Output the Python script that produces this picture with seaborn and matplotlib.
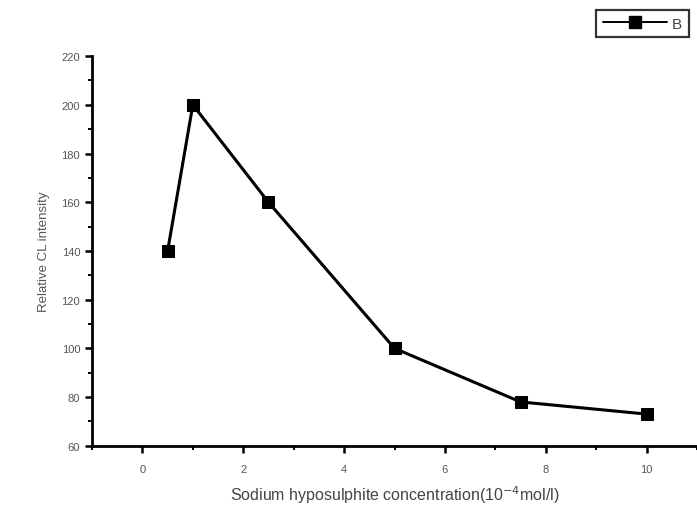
import matplotlib
matplotlib.use("Agg")
import matplotlib.pyplot as plt
import seaborn as sns
import pandas as pd
from matplotlib.ticker import MultipleLocator
from matplotlib.lines import Line2D

concentration = [0.5, 1.0, 2.5, 5.0, 7.5, 10.0]
intensity = [140, 200, 160, 100, 78, 73]
series_name = "B"

df = pd.DataFrame({"x": concentration, "y": intensity, "s": series_name})

sns.set_theme(style="white")
plt.rcParams["font.family"] = ["Liberation Sans", "DejaVu Sans"]

fig = plt.figure(figsize=(6.97, 5.10), dpi=100)
ax = fig.add_axes([0.132, 0.124, 0.868, 0.764])

sns.lineplot(data=df, x="x", y="y", hue="s", palette=["black"], marker="s",
             markersize=8, markeredgecolor="black", linewidth=2.2, ax=ax,
             legend=False)

ax.set_xlim(-1, 11)
ax.set_ylim(60, 220)
ax.xaxis.set_major_locator(MultipleLocator(2))
ax.xaxis.set_minor_locator(MultipleLocator(1))
ax.yaxis.set_major_locator(MultipleLocator(20))
ax.yaxis.set_minor_locator(MultipleLocator(10))

for side in ["top", "right"]:
    ax.spines[side].set_visible(False)
for side in ["left", "bottom"]:
    ax.spines[side].set_linewidth(2.0)
    ax.spines[side].set_color("black")

ax.tick_params(which="major", direction="out", length=5, width=1.8, color="black",
               labelsize=8, labelcolor="#555555", bottom=True, left=True)
ax.tick_params(which="minor", direction="out", length=3, width=1.4, color="black",
               bottom=True, left=True)
ax.tick_params(axis="x", pad=8)

ax.set_xlabel("Sodium hyposulphite concentration(10$^{-4}$mol/l)", fontsize=11.5,
              color="#444444", labelpad=7)
ax.set_ylabel("Relative CL intensity", fontsize=9.5, color="#555555", labelpad=8)

h = Line2D([], [], color="black", marker="s", markersize=8, linewidth=1.4)
leg = fig.legend([h], [series_name], loc="upper right", bbox_to_anchor=(0.993, 0.985),
                 frameon=True, fancybox=False, shadow=False, fontsize=11,
                 handlelength=4.2, borderpad=0.45, handletextpad=0.3,
                 borderaxespad=0.2)
leg.get_frame().set_edgecolor("black")
leg.get_frame().set_linewidth(1.6)
for t in leg.get_texts():
    t.set_color("#444444")

fig.savefig("out.png", dpi=100, facecolor="white")
